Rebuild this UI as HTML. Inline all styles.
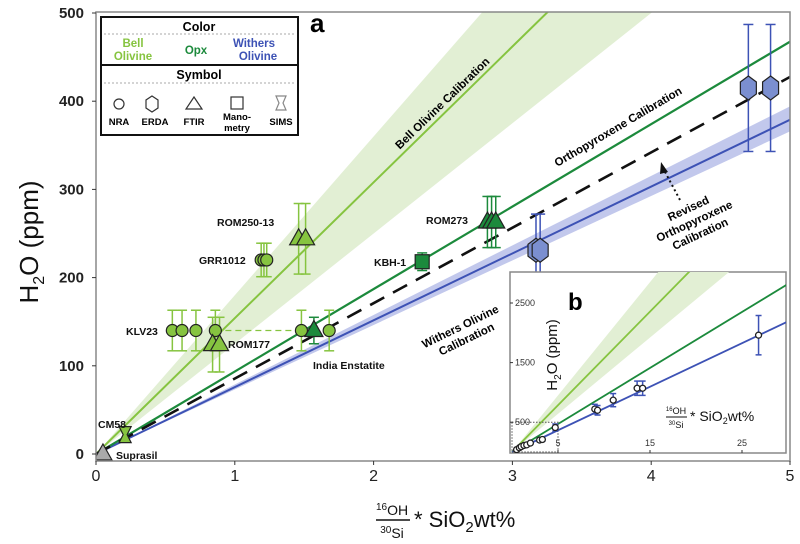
<!DOCTYPE html>
<html><head><meta charset="utf-8"><style>
body{margin:0;background:#fff;}
svg{display:block;font-family:"Liberation Sans","DejaVu Sans",sans-serif;}
</style></head><body>
<svg id="chart" width="800" height="544" viewBox="0 0 800 544" xmlns="http://www.w3.org/2000/svg">
<rect width="800" height="544" fill="#fff"/>
<g id="main"></g>
<g id="inset"></g>
</svg>
<script>
// ---- data (main panel a) ----
const xTicks = [0,1,2,3,4,5];
const yTicks = [0,100,200,300,400,500];
const bellSlope = 154, bellHi = 180, bellLo = 125;
const opxSlope = 93.5, revisedSlope = 85.5, withersSlope = 75.8;
const circleX = [0.55,0.62,0.72,0.86,1.48,1.68];
const circleY = [140,140,140,140,140,140];
const circleErr = [23,23,23,23,23,23];
const grrX = [1.19,1.21,1.23];
const grrY = [220,220,220];
const grrErr = [19,19,19];
const rom250X = [1.46,1.51];
const rom250Y = [244,244];
const rom250Err = [40,40];
const rom177X = [0.84,0.89];
const rom177Y = [124,124];
const rom177Err = [31,31];
const indiaX = [1.57]; const indiaY = [140]; const indiaErr = [15];
const rom273X = [2.82,2.85,2.88]; const rom273Y = [263,263,263]; const rom273Err = [29,29,29];
const kbhX = [2.35]; const kbhY = [218]; const kbhErr = [10];
const hexX = [3.17,3.20,4.70,4.86]; const hexY = [231,231,415,415]; const hexErr = [41,41,72,72];
const cm58X = [0.21]; const cm58Y = [22];
const suprasilX = [0.05]; const suprasilY = [0];
// ---- data (inset b) ----
const insetXTicks = [5,15,25];
const insetYTicks = [500,1500,2500];
const insetX = [0.5,0.8,1.0,1.3,1.6,2.0,3.0,3.3,4.7,9.0,9.3,11.0,13.6,14.2,26.8];
const insetY = [40,70,90,110,120,150,200,210,410,720,700,870,1070,1070,1960];
const insetErr = [10,10,15,15,15,20,30,30,60,80,80,110,120,120,330];
const insetBell = 157, insetBellHi = 190, insetBellLo = 128, insetOpx = 94, insetWithers = 73;

const NS = "http://www.w3.org/2000/svg";
const LG = "#86c440", DG = "#1c8a3c", BL = "#3d52b5", LGB = "#e2efd4", LBB = "#c2c8ec";
function el(tag, attrs, parent, text){
  const e = document.createElementNS(NS, tag);
  for (const k in attrs) e.setAttribute(k, attrs[k]);
  if (text !== undefined) e.textContent = text;
  parent.appendChild(e); return e;
}
const main = document.getElementById('main');
const X = v => 96 + v * 138.8;
const Y = v => 454 - v * 0.882;
const L = 96, R = 790, T = 12, B = 461;

const defs = el('defs', {}, main);
const cp = el('clipPath', {id:'clipA'}, defs);
el('rect', {x:L, y:T, width:R-L, height:B-T}, cp);
const plot = el('g', {'clip-path':'url(#clipA)'}, main);



const xm = 5.2;
let b1 = el('polygon', {points:`${X(0)},${Y(0)} ${X(xm)},${Y(bellHi*xm)} ${X(xm)},${Y(bellLo*xm)}`, fill:LGB}, plot);


let b2 = el('polygon', {points:`${X(0)},${Y(0)} ${X(xm)},${Y(withersSlope*1.04*xm)} ${X(xm)},${Y(withersSlope*0.965*xm)}`, fill:LBB}, plot);


function calLine(slope, color, w, dash, name){
  const l = el('line', {x1:X(0), y1:Y(0), x2:X(xm), y2:Y(slope*xm), stroke:color, 'stroke-width':w}, plot);
  if (dash) l.setAttribute('stroke-dasharray', dash);
  
  
}
calLine(bellSlope, LG, 2, null, 'bell-olivine-line');
calLine(withersSlope, BL, 2, null, 'withers-olivine-line');
calLine(opxSlope, DG, 2.2, null, 'opx-calibration-line');
calLine(revisedSlope, "#111", 2.6, "16,10", 'revised-opx-line');

let dl = el('line', {x1:X(0.86), y1:Y(140), x2:X(1.48), y2:Y(140), stroke:LG, 'stroke-width':1.3, 'stroke-dasharray':'6,4'}, plot);



function errbar(xs, ys, es, color, name){
  for (let i=0;i<xs.length;i++){
    const g = el('g', {stroke:color, 'stroke-width':1.5}, plot);
    
    
    const x = X(xs[i]);
    el('line', {x1:x, y1:Y(ys[i]-es[i]), x2:x, y2:Y(ys[i]+es[i])}, g);
    el('line', {x1:x-5, y1:Y(ys[i]-es[i]), x2:x+5, y2:Y(ys[i]-es[i])}, g);
    el('line', {x1:x-5, y1:Y(ys[i]+es[i]), x2:x+5, y2:Y(ys[i]+es[i])}, g);
  }
}
function marker(shape, xs, ys, fill, name){
  for (let i=0;i<xs.length;i++){
    const x = X(xs[i]), y = Y(ys[i]);
    let m;
    const st = {fill:fill, stroke:'#222', 'stroke-width':1.2};
    if (shape==='circle') m = el('circle', Object.assign({cx:x, cy:y, r:6}, st), plot);
    else if (shape==='tri') m = el('polygon', Object.assign({points:`${x},${y-10} ${x-9},${y+6} ${x+9},${y+6}`}, st), plot);
    else if (shape==='square') m = el('rect', Object.assign({x:x-7, y:y-7, width:14, height:14}, st), plot);
    else if (shape==='hex') m = el('polygon', Object.assign({points:`${x},${y-12} ${x+8},${y-6} ${x+8},${y+6} ${x},${y+12} ${x-8},${y+6} ${x-8},${y-6}`}, st), plot);
    else if (shape==='x') m = el('path', Object.assign({d:`M${x-6},${y-8} L${x+6},${y-8} L${x+2},${y} L${x+6},${y+8} L${x-6},${y+8} L${x-2},${y} Z`}, st), plot);
    
    
  }
}
errbar(circleX, circleY, circleErr, LG, 'klv23');
errbar(grrX, grrY, grrErr, LG, 'grr1012');
errbar(rom250X, rom250Y, rom250Err, LG, 'rom250-13');
errbar(rom177X, rom177Y, rom177Err, LG, 'rom177');
errbar(indiaX, indiaY, indiaErr, DG, 'india-enstatite');
errbar(rom273X, rom273Y, rom273Err, DG, 'rom273');
errbar(kbhX, kbhY, kbhErr, DG, 'kbh-1');
errbar(hexX, hexY, hexErr, BL, 'withers');
marker('circle', circleX, circleY, LG, 'klv23-point');
marker('circle', grrX, grrY, LG, 'grr1012-point');
marker('tri', rom250X, rom250Y, LG, 'rom250-13-point');
marker('tri', rom177X, rom177Y, LG, 'rom177-point');
marker('tri', indiaX, indiaY, DG, 'india-enstatite-point');
marker('tri', rom273X, rom273Y, DG, 'rom273-point');
marker('square', kbhX, kbhY, DG, 'kbh-1-point');
marker('hex', hexX, hexY, "#7b8fd0", 'withers-hex-point');
marker('x', cm58X, cm58Y, LG, 'cm58-point');
marker('tri', suprasilX, suprasilY, "#aaa", 'suprasil-point');

const fr = el('rect', {x:L, y:T, width:R-L, height:B-T, fill:'none', stroke:'#888', 'stroke-width':1.5}, main);


xTicks.forEach(t=>{
  el('line', {x1:X(t), y1:B, x2:X(t), y2:B+4, stroke:'#333'}, main);
  const tx = el('text', {x:X(t), y:B+20, 'font-size':16, 'text-anchor':'middle', fill:'#222'}, main, t);
  
  
});
yTicks.forEach(t=>{
  el('line', {x1:L-4, y1:Y(t), x2:L, y2:Y(t), stroke:'#333'}, main);
  const ty = el('text', {x:L-12, y:Y(t)+5, 'font-size':15, 'text-anchor':'end', fill:'#222', 'font-weight':'bold'}, main, t);
  
  
});
</script>
<script>
(function(){
const m = document.getElementById('main');
const add = (html) => m.insertAdjacentHTML('beforeend', html);
add(`<text transform="translate(38,242) rotate(-90)" text-anchor="middle" font-size="26" fill="#111">H<tspan font-size="16" dy="6">2</tspan><tspan dy="-6">O (ppm)</tspan></text>`);
add(`<g fill="#111">
<text x="392" y="515" font-size="14" text-anchor="middle"><tspan font-size="10" dy="-5">16</tspan><tspan dy="5">OH</tspan></text>
<line x1="376" y1="520" x2="410" y2="520" stroke="#111" stroke-width="1.5"/>
<text x="392" y="538" font-size="14" text-anchor="middle"><tspan font-size="10" dy="-5">30</tspan><tspan dy="5">Si</tspan></text>
<text x="414" y="527" font-size="22">* SiO<tspan font-size="15" dy="5">2</tspan><tspan dy="-5">wt%</tspan></text></g>`);
add(`<text x="310" y="32" font-size="26" font-weight="bold">a</text>`);
const lbl = (n,x,y,t,a) => add(`<text x="${x}" y="${y}" font-size="10.5" font-weight="bold" fill="#111" text-anchor="${a||'start'}">${t}</text>`);
lbl('label-rom250-13',217,226,'ROM250-13');
lbl('label-grr1012',199,264,'GRR1012');
lbl('label-klv23',126,335,'KLV23');
lbl('label-rom177',228,348,'ROM177');
lbl('label-india-enstatite',313,369,'India Enstatite');
lbl('label-rom273',426,224,'ROM273');
lbl('label-kbh-1',374,266,'KBH-1');
lbl('label-cm58',98,428,'CM58');
lbl('label-suprasil',116,459,'Suprasil');
add(`<text transform="translate(445,106) rotate(-44)" text-anchor="middle" font-size="11.5" font-weight="bold">Bell Olivine Calibration</text>`);
add(`<text transform="translate(620,130) rotate(-30.5)" text-anchor="middle" font-size="11.5" font-weight="bold">Orthopyroxene Calibration</text>`);
add(`<text transform="translate(462,330) rotate(-26)" text-anchor="middle" font-size="11.5" font-weight="bold"><tspan x="0" dy="0">Withers Olivine</tspan><tspan x="0" dy="14">Calibration</tspan></text>`);
add(`<text transform="translate(690,212) rotate(-25)" text-anchor="middle" font-size="11.5" font-weight="bold"><tspan x="0" dy="0">Revised</tspan><tspan x="0" dy="14">Orthopyroxene</tspan><tspan x="0" dy="14">Calibration</tspan></text>`);
add(`<g><line x1="680" y1="200" x2="664" y2="170" stroke="#111" stroke-width="2" stroke-dasharray="2,3"/><polygon points="661,162 668,172 660,174" fill="#111"/></g>`);
add(`<g font-weight="bold" text-anchor="middle">
<rect x="101" y="17" width="197" height="118" fill="#fff" stroke="#111" stroke-width="2"/>
<line x1="101" y1="65" x2="298" y2="65" stroke="#111" stroke-width="2"/>
<text x="199" y="31" font-size="12.5">Color</text>
<line x1="104" y1="34" x2="295" y2="34" stroke="#aaa" stroke-dasharray="2,2"/>
<text x="133" y="47" font-size="11.5" fill="${LG}">Bell</text>
<text x="133" y="60" font-size="11.5" fill="${LG}">Olivine</text>
<text x="196" y="54" font-size="11.5" fill="${DG}">Opx</text>
<text x="254" y="47" font-size="11.5" fill="${BL}">Withers</text>
<text x="258" y="60" font-size="11.5" fill="${BL}">Olivine</text>
<text x="199" y="79" font-size="12.5">Symbol</text>
<line x1="104" y1="83" x2="295" y2="83" stroke="#aaa" stroke-dasharray="2,2"/>
<circle cx="119" cy="104" r="5" fill="#fff" stroke="#333" stroke-width="1.2"/>
<polygon points="152,96 158,100 158,108 152,112 146,108 146,100" fill="#fff" stroke="#333" stroke-width="1.2"/>
<polygon points="194,97 202,109 186,109" fill="#fff" stroke="#333" stroke-width="1.2"/>
<rect x="231" y="97" width="12" height="12" fill="#fff" stroke="#333" stroke-width="1.2"/>
<path d="M276,96 L286,96 L283,103 L286,110 L276,110 L279,103 Z" fill="#fff" stroke="#888" stroke-width="1.2"/>
<text x="119" y="125" font-size="9.5">NRA</text>
<text x="155" y="125" font-size="9.5">ERDA</text>
<text x="194" y="125" font-size="9.5">FTIR</text>
<text x="237" y="120" font-size="9.5">Mano-</text>
<text x="237" y="131" font-size="9.5">metry</text>
<text x="281" y="125" font-size="9.5">SIMS</text>
</g>`);
})();
</script>
<script>
(function(){
const g = document.getElementById('inset');
const IX = v => 512 + v * 9.2;
const IY = v => 452 - v * 0.0596;
const L=510, R=786, T=272, B=453;
function el(tag, attrs, parent, text){
  const e = document.createElementNS("http://www.w3.org/2000/svg", tag);
  for (const k in attrs) e.setAttribute(k, attrs[k]);
  if (text !== undefined) e.textContent = text;
  parent.appendChild(e); return e;
}
const bg = el('rect', {x:L, y:T, width:R-L, height:B-T, fill:'#fff', stroke:'#888', 'stroke-width':1.5}, g);


const defs = el('defs', {}, g);
const cp = el('clipPath', {id:'clipB'}, defs);
el('rect', {x:L, y:T, width:R-L, height:B-T}, cp);
const p = el('g', {'clip-path':'url(#clipB)'}, g);
const xm = 32;
const band = el('polygon', {points:`${IX(0)},${IY(0)} ${IX(xm)},${IY(insetBellHi*xm)} ${IX(xm)},${IY(insetBellLo*xm)}`, fill:"#e2efd4"}, p);


[[insetBell,"#86c440",'inset-bell-line'],[insetOpx,"#1c8a3c",'inset-opx-line'],[insetWithers,"#3d52b5",'inset-withers-line']].forEach(a=>{
  const l = el('line', {x1:IX(0), y1:IY(0), x2:IX(xm), y2:IY(a[0]*xm), stroke:a[1], 'stroke-width':1.8}, p);
  
  
});
const box = el('rect', {x:IX(0), y:IY(500), width:IX(5)-IX(0), height:IY(0)-IY(500), fill:'none', stroke:'#555', 'stroke-dasharray':'1.5,1.5'}, p);


for (let i=0;i<insetX.length;i++){
  const x = IX(insetX[i]), y = IY(insetY[i]);
  const eb = el('g', {stroke:"#3d52b5", 'stroke-width':1.5}, p);
  
  
  el('line', {x1:x, y1:IY(insetY[i]-insetErr[i]), x2:x, y2:IY(insetY[i]+insetErr[i])}, eb);
  el('line', {x1:x-3, y1:IY(insetY[i]-insetErr[i]), x2:x+3, y2:IY(insetY[i]-insetErr[i])}, eb);
  el('line', {x1:x-3, y1:IY(insetY[i]+insetErr[i]), x2:x+3, y2:IY(insetY[i]+insetErr[i])}, eb);
  const c = el('circle', {cx:x, cy:y, r:3, fill:'#fff', stroke:'#222', 'stroke-width':1.3}, p);
  
  
}
insetXTicks.forEach(t=>{
  el('line', {x1:IX(t), y1:B-3, x2:IX(t), y2:B, stroke:'#333'}, g);
  const tx = el('text', {x:IX(t), y:B-7, 'font-size':9, 'text-anchor':'middle', fill:'#333'}, g, t);
  
  
});
insetYTicks.forEach(t=>{
  el('line', {x1:L, y1:IY(t), x2:L+3, y2:IY(t), stroke:'#333'}, g);
  const ty = el('text', {x:L+5, y:IY(t)+3, 'font-size':9, fill:'#333'}, g, t);
  
  
});
g.insertAdjacentHTML('beforeend', `<text transform="translate(557,355) rotate(-90)" text-anchor="middle" font-size="15" fill="#111">H<tspan font-size="10" dy="4">2</tspan><tspan dy="-4">O (ppm)</tspan></text>
<text x="568" y="310" font-size="24" font-weight="bold">b</text>
<g fill="#111">
<text x="676" y="414" font-size="9" text-anchor="middle"><tspan font-size="6" dy="-3">16</tspan><tspan dy="3">OH</tspan></text>
<line x1="666" y1="417" x2="687" y2="417" stroke="#111"/>
<text x="676" y="428" font-size="9" text-anchor="middle"><tspan font-size="6" dy="-3">30</tspan><tspan dy="3">Si</tspan></text>
<text x="690" y="421" font-size="14">* SiO<tspan font-size="9" dy="3">2</tspan><tspan dy="-3">wt%</tspan></text></g>`);
})();
</script>
</body></html>
